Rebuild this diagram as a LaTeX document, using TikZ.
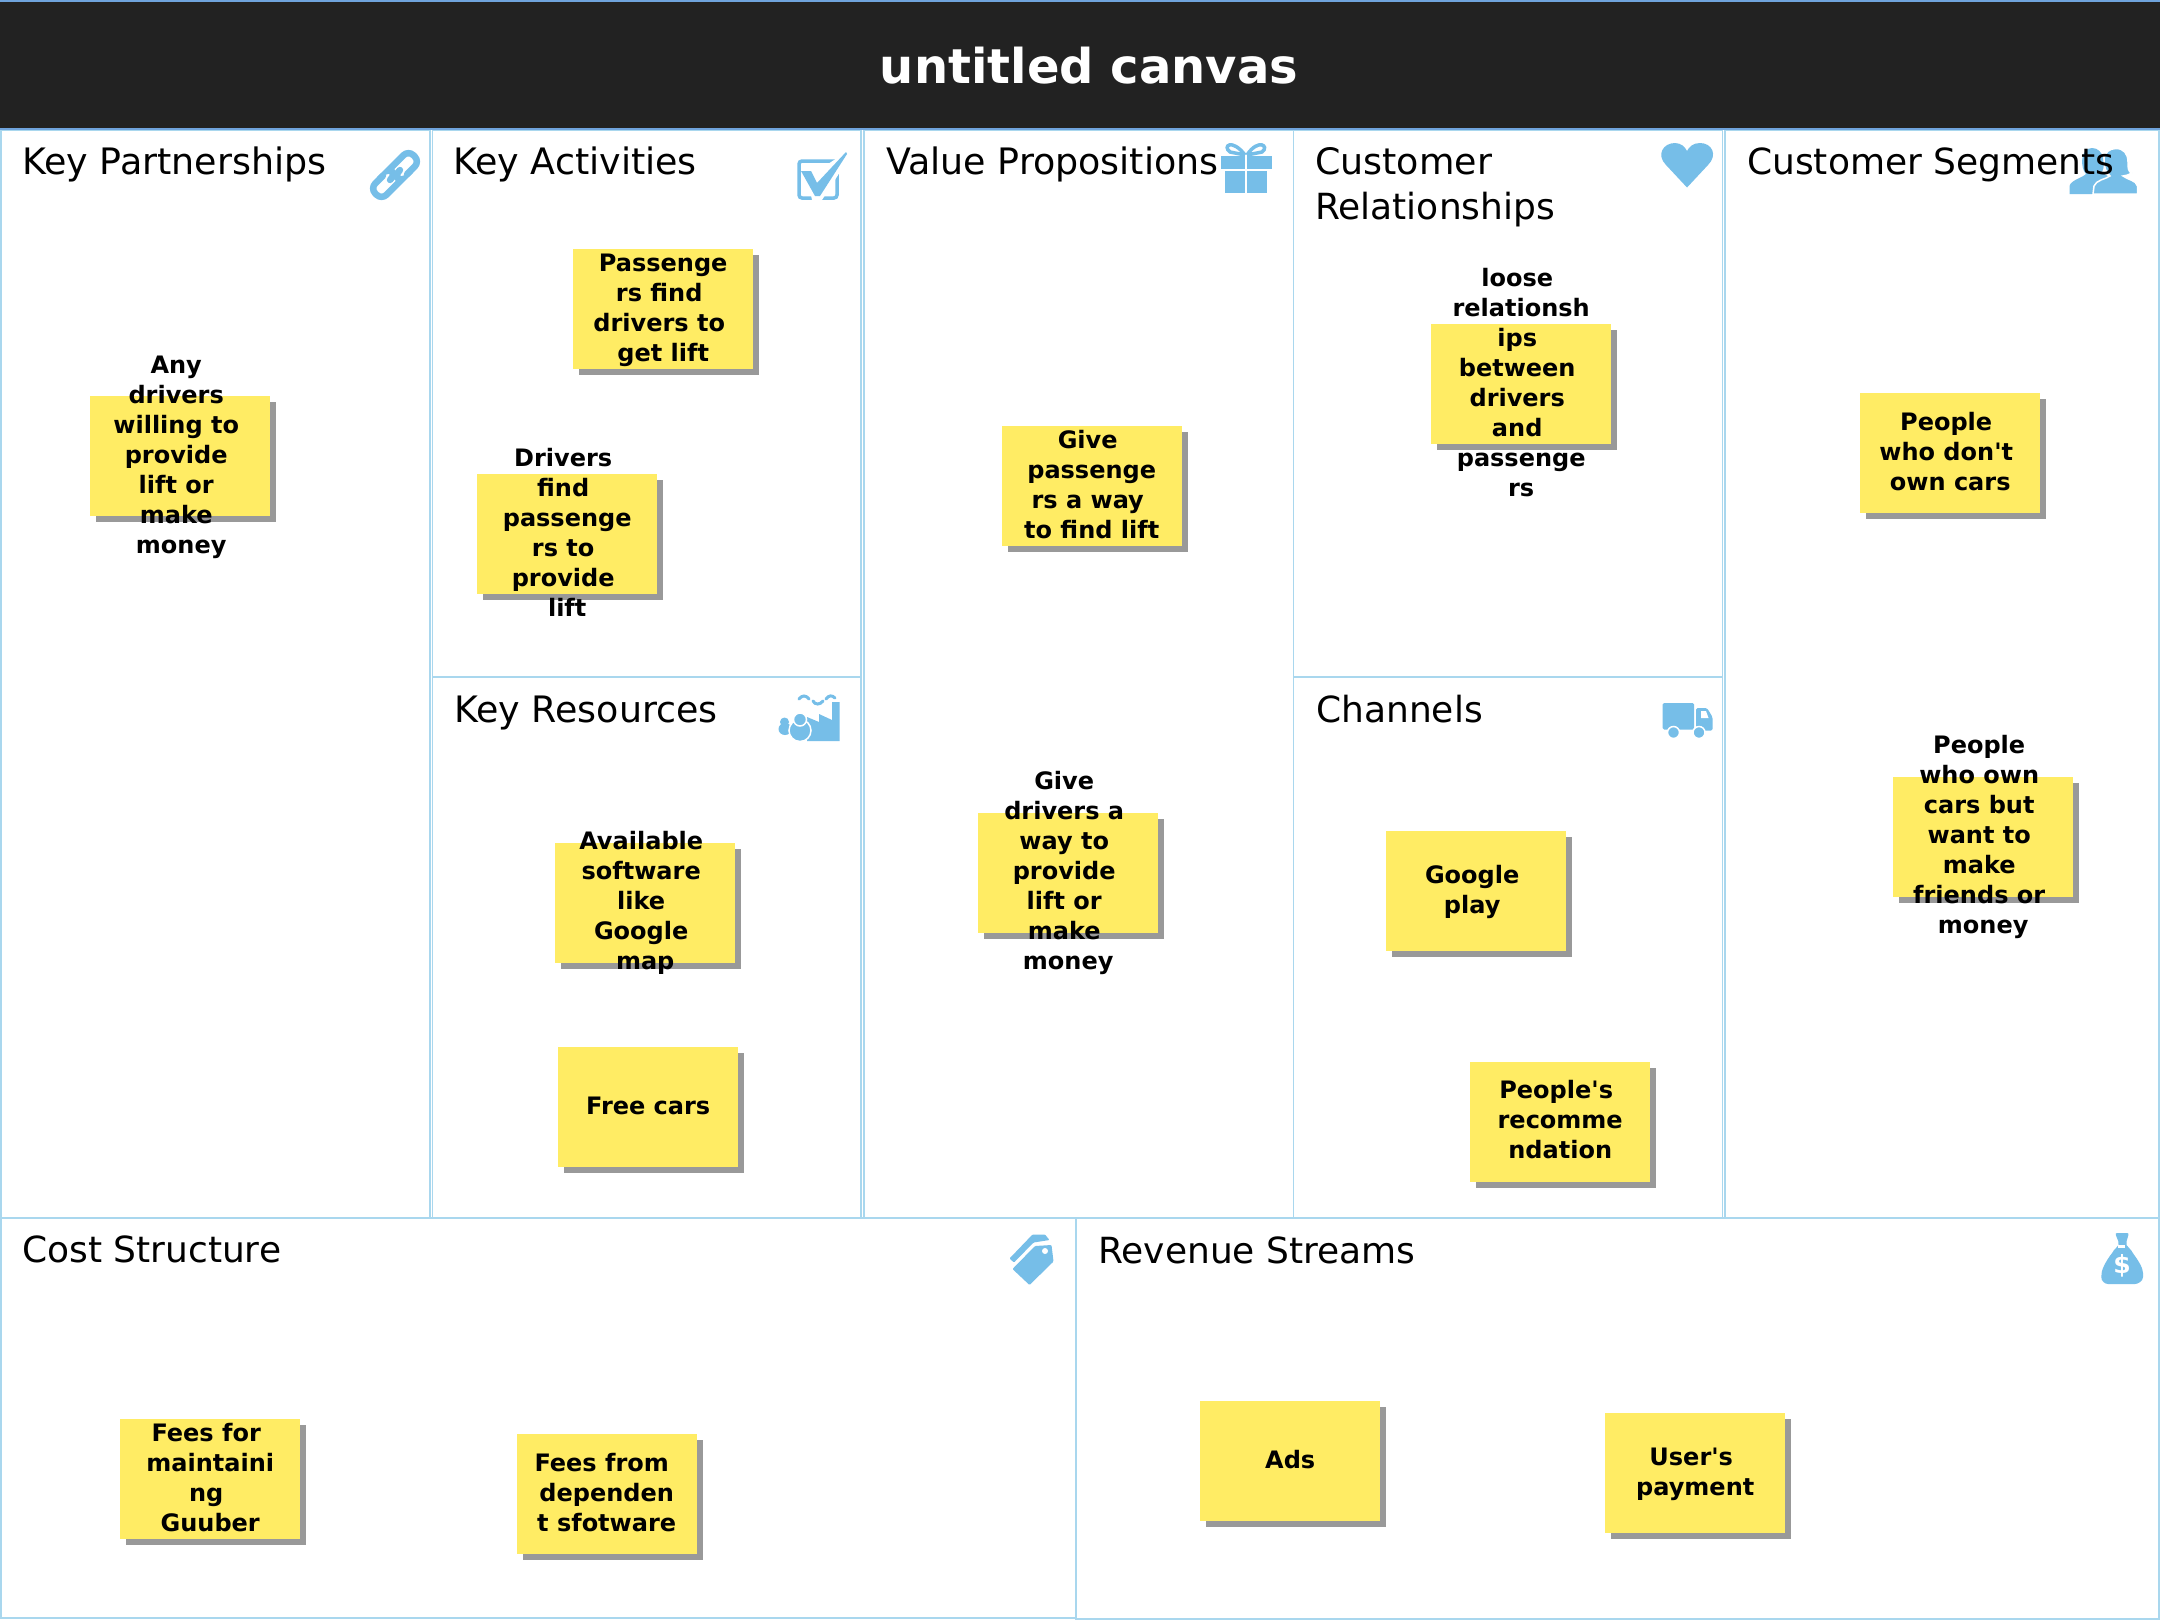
\documentclass[tikz,border=0pt]{standalone}
\usepackage{fontspec}
\newfontfamily\djv{DejaVu Sans}
\definecolor{boxline}{HTML}{A9D7EE}
\definecolor{headline}{HTML}{6FA3DC}
\definecolor{headfill}{HTML}{222222}
\definecolor{noteyellow}{HTML}{FFEC64}
\definecolor{shadowgrey}{HTML}{999999}
\definecolor{iconblue}{HTML}{76BEE8}
\newcommand\ls[2]{\hspace*{\dimexpr #1pt*2\relax}#2}
\tikzset{
  x=1pt,y=-1pt,
  canvasbox/.style={draw=boxline,line width=1.2pt,fill=white},
  boxtitle/.style={anchor=base west,inner sep=0pt,font=\djv\fontsize{36.4}{45}\selectfont,align=left},
  boxtitlenarrow/.style={boxtitle,font=\djv\fontsize{36}{45}\selectfont},
  stickynote/.style={anchor=north west,minimum width=180pt,minimum height=120pt,inner sep=0pt,fill=noteyellow},
  notetext/.style={inner sep=0pt,align=center,font=\djv\fontsize{24}{30}\bfseries\selectfont},
  iconfill/.style={fill=iconblue,draw=none},
  iconline/.style={draw=iconblue,fill=none},
}
\newcommand\sticky[5][0]{%
  \fill[shadowgrey] (#3+6,#4+6) rectangle (#3+186,#4+126);
  \node[stickynote] (#2) at (#3,#4) {};
  \node[notetext,yshift={(1.5-#1)*1pt}] (#2text) at (#2.center) {#5};
}
\begin{document}
\begin{tikzpicture}
\useasboundingbox (0,0) rectangle (2160,1620);
\fill[white] (0,0) rectangle (2160,1620);
% boxes
\draw[canvasbox] (1,130) rectangle (430,1218);
\draw[canvasbox] (432.5,130) rectangle (861,677);
\draw[canvasbox] (432.5,677) rectangle (861,1218);
\draw[canvasbox] (864,130) rectangle (1293.5,1218);
\draw[canvasbox] (1293.5,130) rectangle (1722.5,677);
\draw[canvasbox] (1293.5,677) rectangle (1722.5,1218);
\draw[canvasbox] (1725,130) rectangle (2159,1218);
\draw[canvasbox] (1,1218) rectangle (1076,1618);
\draw[canvasbox] (1076,1218) rectangle (2159,1619);
% header
\path[fill=headfill,draw=headline,line width=1.6pt] (-2,1) rectangle (2162,129);
\node[inner sep=0pt,text=white,font=\djv\fontsize{48}{56}\bfseries\selectfont] (title) at (1089,66) {untitled canvas};

% ---- icons
% link
\begin{scope}[shift={(395,175)},x={(0.707pt,0.707pt)},y={(0.707pt,-0.707pt)},line width=6.5pt,line cap=round]
  \draw[iconline,rounded corners=7pt] (9,8) -- (27,8) -- (27,-8) -- (5,-8) .. controls (2,-8) and (2,0) .. (-7,0);
  \draw[iconline,rounded corners=7pt] (-9,-8) -- (-27,-8) -- (-27,8) -- (-5,8) .. controls (-2,8) and (-2,0) .. (7,0);
\end{scope}
% check box
\draw[iconline,line width=3.5pt,rounded corners=3pt] (799,161) rectangle (837,198);
\fill[white] (805,166) -- (825,166) -- (849,150) -- (849,158) -- (822,200) -- (812,200) -- cycle;
\fill[iconfill] (801,171) -- (811,171) -- (817,183) -- (846,152) -- (847,154) -- (820,196) -- (815,196) -- cycle;
% gift
\draw[iconline,line width=3.5pt] (1245,155) .. controls (1232,138) and (1222,146) .. (1230,152) -- (1245,155);
\draw[iconline,line width=3.5pt] (1247,155) .. controls (1258,138) and (1270,146) .. (1262,152) -- (1247,155);
\fill[iconfill] (1221,156) rectangle (1245,168.5);
\fill[iconfill] (1247,156) rectangle (1272,168.5);
\fill[iconfill] (1225,171) rectangle (1245,193);
\fill[iconfill] (1247,171) rectangle (1267,193);
% heart
\fill[iconfill] (1687,187.5) -- (1666,165) .. controls (1656,155) and (1663,143) .. (1675,143) .. controls (1681,143) and (1685,147) .. (1687,151) .. controls (1689,147) and (1693,143) .. (1700,143) .. controls (1712,143) and (1718,155) .. (1708,165) -- cycle;
% persons
\fill[iconfill] (2069.5,194) -- (2069.5,186) .. controls (2071,180) and (2082,178) .. (2086,174) .. controls (2080,168) and (2080,148) .. (2092,148) .. controls (2104,148) and (2106,165) .. (2102,172) .. controls (2106,176) and (2112,178) .. (2116,180) -- (2116,194) -- cycle;
\draw[white,line width=1.5pt,fill=iconblue] (2093,194) -- (2094,186) .. controls (2096,180) and (2106,179) .. (2110,176) .. controls (2106,172) and (2104,168) .. (2104,160) .. controls (2104,152) and (2110,148.5) .. (2116,148.5) .. controls (2124,148.5) and (2128,154) .. (2128,162) .. controls (2128,168) and (2128,172) .. (2132,173) .. controls (2128,175) and (2125,176) .. (2123,176) .. controls (2128,180) and (2136,180) .. (2137.5,186) -- (2137.5,194) -- cycle;
% factory
\fill[iconfill] (807,717) -- (819,722) -- (819,714) -- (832,720) -- (832,702) -- (839.5,702) -- (839.5,741) -- (807,741) -- cycle;
\begin{scope}[iconline,line width=3pt,line cap=round]
  \draw (799,699) .. controls (802,695) and (806,695) .. (809,699);
  \draw (813,701) .. controls (815,705) and (820,705) .. (823,701);
  \draw (826,699) .. controls (829,695) and (832,695) .. (835,698);
\end{scope}
\fill[iconfill] (784.5,722) circle (4.5);
\fill[iconfill] (785,729) ellipse (6.5 and 6);
\draw[white,line width=1.5pt,fill=iconblue] (800,730.5) ellipse (11 and 11);
\draw[white,line width=1.5pt,fill=iconblue] (800,719.5) circle (6.5);
% truck
\fill[iconfill,rounded corners=1.5pt] (1662.5,703) rectangle (1694,729.5);
\fill[iconfill,rounded corners=1.5pt] (1696,708) -- (1707,708) -- (1712.5,717) -- (1712.5,730.5) -- (1696,730.5) -- cycle;
\fill[white] (1701,711) -- (1706,711) -- (1708.5,718) -- (1701,718) -- cycle;
\draw[white,line width=1.5pt,fill=iconblue] (1673.5,732.5) circle (6);
\draw[white,line width=1.5pt,fill=iconblue] (1699,732.5) circle (6);
% tag
\fill[iconfill,rounded corners=1pt] (1009.5,1258.5) -- (1032.5,1234.5) -- (1045,1234.5) -- (1049.5,1240) -- (1033.5,1242.5) -- (1014,1262.5) -- cycle;
\fill[iconfill,rounded corners=1pt] (1012.5,1269) -- (1035,1246) -- (1051.5,1245) -- (1053.5,1261.5) -- (1029.5,1285) -- cycle;
\fill[white] (1045,1251) circle (3);
% money bag
\fill[iconfill,rounded corners=2pt] (2115,1233) -- (2129,1233) -- (2126,1243) .. controls (2127,1247) and (2130,1248) .. (2132,1252) .. controls (2138,1260) and (2143,1268) .. (2143,1275) .. controls (2143,1281) and (2138,1284) .. (2133,1284) -- (2110,1284) .. controls (2105,1284) and (2101,1281) .. (2101.5,1275) .. controls (2102,1268) and (2108,1258) .. (2113,1252) .. controls (2115,1248) and (2118,1247) .. (2119,1243) -- cycle;
\fill[white] (2118,1245) rectangle (2125,1247.5);
\node[inner sep=0pt,text=white,font=\djv\fontsize{25}{25}\bfseries\selectfont] (dollar) at (2122,1266) {\$};

% ---- titles
\node[boxtitle] (tkp) at (22,174) {Key Partnerships};
\node[boxtitle] (tka) at (453,174) {Key Activities};
\node[boxtitle] (tvp) at (886,174) {Value Propositions};
\node[boxtitle] (tcr) at (1315,174) {Customer};
\node[boxtitlenarrow] (tcr2) at (1315,219) {Relationships};
\node[boxtitlenarrow] (tcs) at (1747,174) {Customer Segments};
\node[boxtitle] (tkr) at (454,722) {Key Resources};
\node[boxtitlenarrow] (tch) at (1316,722) {Channels};
\node[boxtitlenarrow] (tco) at (22,1262) {Cost Structure};
\node[boxtitlenarrow] (tre) at (1098,1263) {Revenue Streams};

% ---- notes
\sticky[2.7]{nA}{90}{396}{\ls{-4}{Any}\\\ls{-4}{drivers}\\\ls{-4}{willing to}\\\ls{-4}{provide}\\\ls{-4}{lift or}\\\ls{-4}{make}\\\ls{1}{money}}
\sticky[2.7]{nB}{573}{249}{\ls{0}{Passenge}\\\ls{-4}{rs find}\\\ls{-4}{drivers to}\\\ls{0}{get lift}}
\sticky{nC}{477}{474}{\ls{-4}{Drivers}\\\ls{-4}{find}\\\ls{0}{passenge}\\\ls{-4}{rs to}\\\ls{-4}{provide}\\\ls{0}{lift}}
\sticky[1.4]{nD}{555}{843}{\ls{-4}{Available}\\\ls{-4}{software}\\\ls{-4}{like}\\\ls{-4}{Google}\\\ls{0}{map}}
\sticky{nE}{558}{1047}{Free cars}
\sticky{nF}{1001.5}{426}{\ls{-4}{Give}\\\ls{0}{passenge}\\\ls{-4}{rs a way}\\\ls{0}{to find lift}}
\sticky[1.4]{nG}{978}{813}{\ls{-4}{Give}\\\ls{-4}{drivers a}\\\ls{-4}{way to}\\\ls{-4}{provide}\\\ls{-4}{lift or}\\\ls{-4}{make}\\\ls{0}{money}}
\sticky{nH}{1431}{324}{\ls{-4}{loose}\\\ls{0}{relationsh}\\\ls{-4}{ips}\\\ls{-4}{between}\\\ls{-4}{drivers}\\\ls{-4}{and}\\\ls{0}{passenge}\\\ls{0}{rs}}
\sticky[2.7]{nI}{1386}{831}{\ls{-4}{Google}\\\ls{-4}{play}}
\sticky[-1.4]{nJ}{1470}{1062}{\ls{-4}{People's}\\\ls{0}{recomme}\\\ls{0}{ndation}}
\sticky{nK}{1860}{393}{\ls{-4}{People}\\\ls{-4}{who don't}\\\ls{0}{own cars}}
\sticky[1.4]{nL}{1893}{777}{\ls{-4}{People}\\\ls{-4}{who own}\\\ls{-4}{cars but}\\\ls{-4}{want to}\\\ls{-4}{make}\\\ls{-4}{friends or}\\\ls{0}{money}}
\sticky{nM}{120}{1419}{\ls{-4}{Fees for}\\\ls{0}{maintaini}\\\ls{-4}{ng}\\\ls{0}{Guuber}}
\sticky{nN}{516.5}{1434}{\ls{-5}{Fees from}\\\ls{0}{dependen}\\\ls{0}{t sfotware}}
\sticky{nO}{1200}{1400.5}{Ads}
\sticky[2.7]{nP}{1605}{1412.5}{\ls{-4}{User's}\\\ls{0}{payment}}
\end{tikzpicture}
\end{document}
